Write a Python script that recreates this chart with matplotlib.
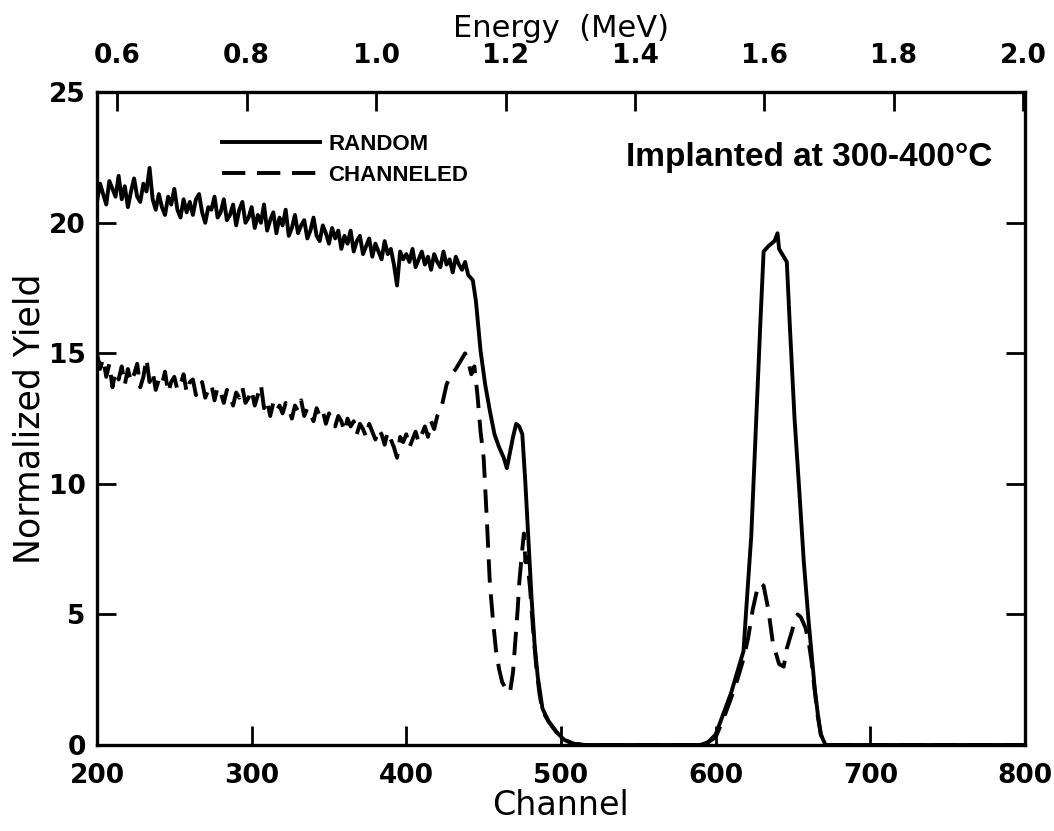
import numpy as np
import matplotlib
matplotlib.use("Agg")
import matplotlib.pyplot as plt

# random spectrum, noisy plateau 200-438 every 2 channels
rand_ch_lo = list(range(200, 440, 2))
rand_lo = [
    20.8, 21.5, 21.1, 20.7, 21.6, 21.3, 21.0, 21.8, 20.9, 21.4,
    20.6, 21.2, 21.7, 21.0, 20.8, 21.5, 21.2, 22.1, 20.9, 20.5,
    21.1, 20.6, 20.3, 21.0, 20.7, 21.3, 20.5, 20.2, 20.9, 20.4,
    20.8, 20.3, 20.9, 21.1, 20.4, 20.0, 20.6, 20.5, 21.0, 20.2,
    20.4, 20.9, 20.1, 20.3, 20.7, 19.9, 20.5, 20.8, 20.0, 20.2,
    20.6, 19.8, 20.3, 20.0, 20.7, 19.7, 20.1, 20.4, 19.6, 20.2,
    19.9, 20.5, 19.5, 19.8, 20.3, 19.6, 19.9, 20.1, 19.4, 19.7,
    20.2, 19.5, 19.3, 19.9, 19.6, 19.2, 19.8, 19.4, 19.7, 19.0,
    19.5, 19.2, 19.7, 18.9, 19.3, 19.5, 18.8, 19.1, 19.4, 18.7,
    19.2, 18.9, 18.6, 19.3, 18.8, 19.0, 18.4, 17.6, 18.9, 18.6,
    18.8, 18.5, 19.0, 18.3, 18.6, 18.9, 18.4, 18.7, 18.2, 18.8,
    18.5, 18.3, 18.9, 18.4, 18.6, 18.1, 18.7, 18.4, 18.2, 18.5,
]
# random spectrum, edges and implant peak
rand_ch_hi = [440, 443, 445, 448, 451, 454, 457, 460, 463, 465, 467, 469, 471,
              473, 475, 477, 479, 481, 483, 485, 488, 492, 497, 502, 508, 515,
              550, 590, 595, 600, 605, 610, 614, 618, 620, 623, 625, 627, 629,
              631, 634, 638, 640, 641, 643, 646, 648, 651, 654, 657, 660, 662,
              664, 666, 668, 671, 700, 800]
rand_hi = [18.0, 17.8, 17.0, 15.1, 13.8, 12.8, 11.9, 11.4, 11.0, 10.6, 11.2, 11.8, 12.3,
           12.2, 11.9, 10.0, 7.8, 5.6, 3.8, 2.6, 1.4, 0.9, 0.5, 0.2, 0.05, 0.0,
           0.0, 0.0, 0.1, 0.4, 1.2, 2.0, 2.8, 3.6, 5.4, 8.0, 10.8, 13.5, 16.3,
           18.9, 19.1, 19.3, 19.6, 19.0, 18.8, 18.5, 16.0, 12.5, 9.8, 7.0, 4.8, 3.5,
           2.2, 1.2, 0.4, 0.0, 0.0, 0.0]

# channeled spectrum, noisy part 200-418 every 2 channels
chan_ch_lo = list(range(200, 420, 2))
chan_lo = [
    15.0, 14.4, 14.8, 14.1, 14.6, 13.7, 14.3, 14.0, 14.5, 13.8,
    14.4, 13.9, 14.2, 14.6, 13.7, 14.1, 14.8, 13.9, 14.3, 13.6,
    14.0, 13.8, 14.3, 13.5, 13.9, 14.1, 13.6, 13.8, 14.2, 13.5,
    13.9, 14.0, 13.4, 13.7, 13.9, 13.3, 13.6, 13.8, 13.2, 13.7,
    13.5, 13.1, 13.6, 13.4, 13.0, 13.5, 13.3, 13.7, 13.1, 13.3,
    13.6, 13.0, 13.4, 13.8, 12.9, 13.2, 12.6, 13.1, 12.8, 13.0,
    12.7, 13.1, 12.9, 12.5, 13.0, 12.8, 13.2, 12.6, 12.9, 12.7,
    12.4, 12.9, 12.6, 12.8, 12.3, 12.7, 12.5, 12.2, 12.6, 12.4,
    12.0, 12.5, 12.2, 12.4, 11.9, 12.3, 12.1, 11.8, 12.3, 12.0,
    11.7, 12.1, 11.9, 11.5, 12.0, 11.7, 11.4, 11.0, 11.8, 11.6,
    11.9, 11.4, 11.7, 12.0, 11.6, 11.9, 12.2, 11.8, 12.4, 12.1,
]
chan_ch_hi = [420, 423, 426, 429, 432, 435, 438, 440, 442, 444, 446, 448, 450,
              452, 454, 456, 458, 460, 462, 465, 467, 469, 470, 472, 473, 475,
              476, 477, 478, 480, 482, 484, 486, 488, 492, 497, 502, 508, 515,
              550, 590, 595, 600, 605, 610, 614, 618, 621, 624, 627, 629, 631,
              634, 637, 641, 644, 646, 649, 651, 653, 655, 658, 660, 662, 664,
              666, 668, 671, 700, 800]
chan_hi = [12.6, 13.0, 13.8, 14.2, 14.4, 14.7, 15.0, 14.7, 14.2, 14.5, 13.4, 12.0, 11.0,
           8.7, 6.2, 4.8, 3.6, 2.9, 2.4, 2.1, 2.0, 2.8, 3.6, 5.2, 6.2, 7.5,
           8.1, 7.0, 7.2, 6.0, 4.4, 3.0, 2.0, 1.3, 0.9, 0.5, 0.2, 0.05, 0.0,
           0.0, 0.0, 0.1, 0.3, 1.0, 1.8, 2.5, 3.3, 4.1, 5.2, 6.0, 6.2, 6.1,
           5.2, 3.9, 3.1, 3.0, 3.7, 4.3, 4.7, 5.0, 4.9, 4.5, 4.0, 3.2, 2.1,
           1.1, 0.4, 0.0, 0.0, 0.0]

# channel <-> energy calibration
e_ticks = [0.6, 0.8, 1.0, 1.2, 1.4, 1.6, 1.8, 2.0]
ch_at_06 = 213.0
mev_per_ch = 1.4 / 586.0

def ch2e(c):
    return 0.6 + (np.asarray(c) - ch_at_06) * mev_per_ch

def e2ch(e):
    return ch_at_06 + (np.asarray(e) - 0.6) / mev_per_ch

rand_x = rand_ch_lo + rand_ch_hi
rand_y = rand_lo + rand_hi
chan_x = chan_ch_lo + chan_ch_hi
chan_y = chan_lo + chan_hi

fig = plt.figure(figsize=(10.54, 8.31), dpi=100)
ax = fig.add_axes([0.092, 0.1035, 0.8805, 0.7855])

ax.plot(rand_x, rand_y, color="black", lw=2.8, label="RANDOM")
ax.plot(chan_x, chan_y, color="black", lw=2.8, linestyle=(0, (6, 3)), label="CHANNELED")

ax.set_xlim(200, 800)
ax.set_ylim(0, 25)
ax.set_xticks([200, 300, 400, 500, 600, 700, 800])
ax.set_yticks([0, 5, 10, 15, 20, 25])
ax.tick_params(direction="in", length=14, width=2, labelsize=19,
               right=True, top=False)
ax.tick_params(axis="x", pad=13)
ax.tick_params(axis="y", pad=8)
for lab in ax.get_xticklabels() + ax.get_yticklabels():
    lab.set_fontweight("bold")
for sp in ax.spines.values():
    sp.set_linewidth(2.4)

ax.set_xlabel("Channel", fontsize=24, labelpad=0)
ax.set_ylabel("Normalized Yield", fontsize=25, labelpad=2)

top = ax.secondary_xaxis("top", functions=(ch2e, e2ch))
top.set_xticks(e_ticks)
top.set_xticklabels([f"{e:.1f}" for e in e_ticks], fontweight="bold")
top.tick_params(direction="in", length=14, width=2, labelsize=19, pad=17)
top.set_xlabel("Energy  (MeV)", fontsize=22, labelpad=4)

leg = ax.legend(loc="upper left", bbox_to_anchor=(0.113, 0.967), frameon=False,
                handlelength=4.4, handletextpad=0.4, labelspacing=0.45,
                prop={"family": "Liberation Sans", "weight": "bold", "size": 16})

ax.text(0.57, 0.9, "Implanted at 300-400°C", transform=ax.transAxes,
        fontsize=24, fontweight="bold", family="Liberation Sans", va="center")

fig.savefig("out.png", dpi=100)
